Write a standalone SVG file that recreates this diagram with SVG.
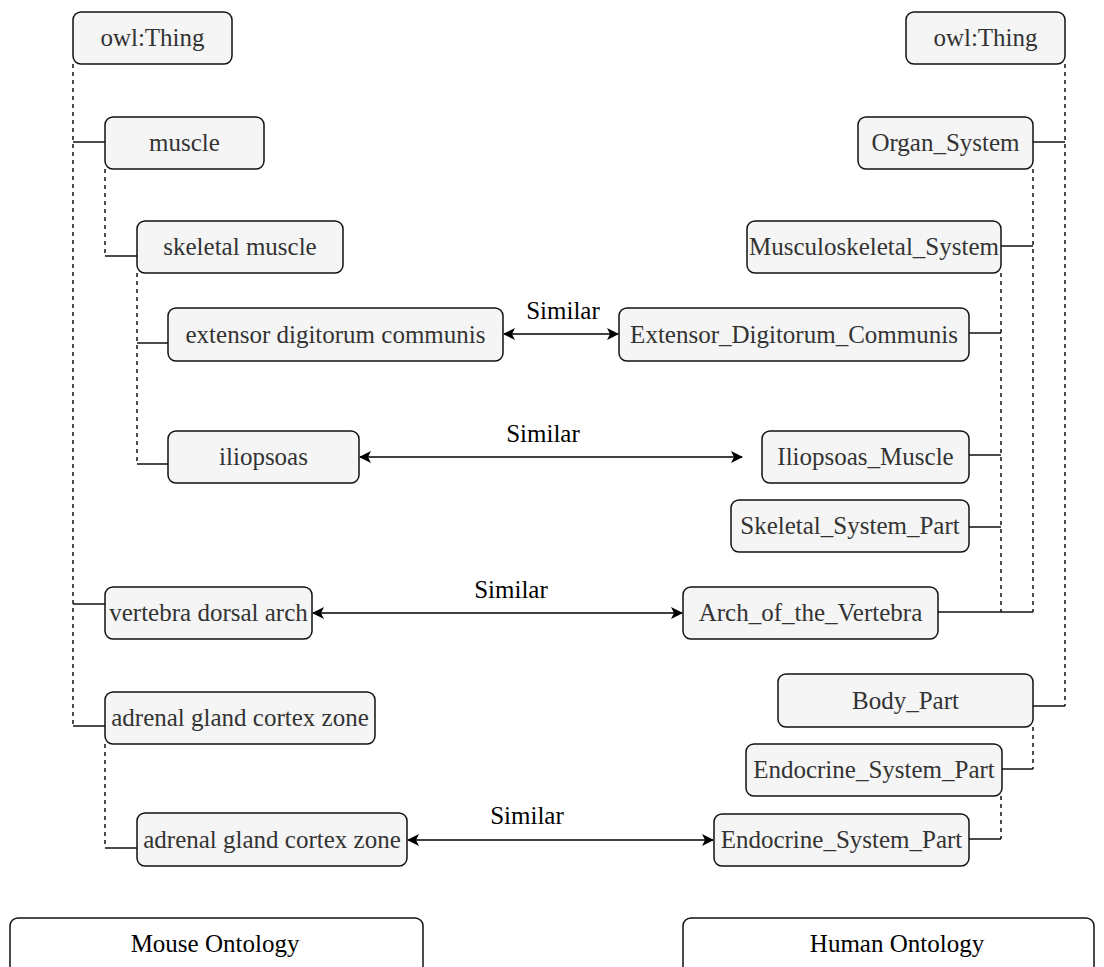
<svg xmlns="http://www.w3.org/2000/svg" width="1104" height="967" viewBox="0 0 1104 967">
<style>
.n{fill:#f5f5f5;stroke:#111;stroke-width:1.5}
.b{fill:#fff;stroke:#111;stroke-width:1.5}
.t{font-family:"Liberation Serif","Times New Roman",serif;font-size:25px;fill:#333;text-anchor:middle}
.tb{font-family:"Liberation Serif","Times New Roman",serif;font-size:25px;fill:#000;text-anchor:middle}
.d{stroke:#111;stroke-width:1.5;stroke-dasharray:4 4;fill:none}
.s{stroke:#111;stroke-width:1.5;fill:none}
.a{stroke:#000;stroke-width:1.7;fill:none;marker-start:url(#ah);marker-end:url(#ah)}
</style>
<defs>
<marker id="ah" viewBox="0 0 12 12" refX="11" refY="6" markerWidth="12" markerHeight="12" markerUnits="userSpaceOnUse" orient="auto-start-reverse">
<path d="M0,0 L12,6 L0,12 L3,6 Z" fill="#000"/>
</marker>
</defs>
<g id="connectors">
<line class="d" x1="73" y1="64" x2="73" y2="726"/>
<line class="s" x1="73" y1="142" x2="105" y2="142"/>
<line class="s" x1="73" y1="604" x2="105" y2="604"/>
<line class="s" x1="73" y1="726" x2="105" y2="726"/>
<line class="d" x1="105" y1="169" x2="105" y2="256"/>
<line class="s" x1="105" y1="256" x2="137" y2="256"/>
<line class="d" x1="137" y1="273" x2="137" y2="464"/>
<line class="s" x1="137" y1="343" x2="168" y2="343"/>
<line class="s" x1="137" y1="464" x2="168" y2="464"/>
<line class="d" x1="105" y1="744" x2="105" y2="848"/>
<line class="s" x1="105" y1="848" x2="137" y2="848"/>
<line class="d" x1="1065" y1="64" x2="1065" y2="706"/>
<line class="s" x1="1033" y1="142" x2="1065" y2="142"/>
<line class="s" x1="1033" y1="706" x2="1065" y2="706"/>
<line class="d" x1="1033" y1="169" x2="1033" y2="612"/>
<line class="s" x1="1001" y1="246" x2="1033" y2="246"/>
<line class="s" x1="938" y1="612" x2="1033" y2="612"/>
<line class="d" x1="1001" y1="273" x2="1001" y2="612"/>
<line class="s" x1="969" y1="333" x2="1001" y2="333"/>
<line class="s" x1="969" y1="455" x2="1001" y2="455"/>
<line class="s" x1="969" y1="527" x2="1001" y2="527"/>
<line class="d" x1="1033" y1="727" x2="1033" y2="769"/>
<line class="s" x1="1002" y1="769" x2="1033" y2="769"/>
<line class="d" x1="1001" y1="796" x2="1001" y2="839"/>
<line class="s" x1="969" y1="839" x2="1001" y2="839"/>
<line class="a" x1="504" y1="334" x2="618" y2="334"/>
<text class="tb" x="563" y="319">Similar</text>
<line class="a" x1="360" y1="457" x2="742" y2="457"/>
<text class="tb" x="543" y="442">Similar</text>
<line class="a" x1="313" y1="613" x2="682" y2="613"/>
<text class="tb" x="511" y="598">Similar</text>
<line class="a" x1="408" y1="840" x2="713" y2="840"/>
<text class="tb" x="527" y="824">Similar</text>
</g>
<g id="l-owl-thing"><rect class="n" x="73" y="12" width="159" height="52" rx="8"/><text class="t" x="152.5" y="46">owl:Thing</text></g>
<g id="l-muscle"><rect class="n" x="105" y="117" width="159" height="52" rx="8"/><text class="t" x="184.5" y="151">muscle</text></g>
<g id="l-skeletal-muscle"><rect class="n" x="137" y="221" width="206" height="52" rx="8"/><text class="t" x="240" y="255">skeletal muscle</text></g>
<g id="l-extensor"><rect class="n" x="168" y="308" width="335" height="53" rx="8"/><text class="t" x="335.5" y="342.5">extensor digitorum communis</text></g>
<g id="l-iliopsoas"><rect class="n" x="168" y="431" width="191" height="52" rx="8"/><text class="t" x="263.5" y="465">iliopsoas</text></g>
<g id="l-vertebra"><rect class="n" x="105" y="587" width="207" height="52" rx="8"/><text class="t" x="208.5" y="621">vertebra dorsal arch</text></g>
<g id="l-adrenal-1"><rect class="n" x="105" y="692" width="270" height="52" rx="8"/><text class="t" x="240" y="726">adrenal gland cortex zone</text></g>
<g id="l-adrenal-2"><rect class="n" x="137" y="813" width="270" height="53" rx="8"/><text class="t" x="272" y="847.5">adrenal gland cortex zone</text></g>
<g id="r-owl-thing"><rect class="n" x="906" y="12" width="159" height="52" rx="8"/><text class="t" x="985.5" y="46">owl:Thing</text></g>
<g id="r-organ-system"><rect class="n" x="858" y="117" width="175" height="52" rx="8"/><text class="t" x="945.5" y="151">Organ_System</text></g>
<g id="r-musculoskeletal"><rect class="n" x="747" y="221" width="254" height="52" rx="8"/><text class="t" x="874" y="255">Musculoskeletal_System</text></g>
<g id="r-extensor"><rect class="n" x="619" y="308" width="350" height="53" rx="8"/><text class="t" x="794" y="342.5">Extensor_Digitorum_Communis</text></g>
<g id="r-iliopsoas"><rect class="n" x="762" y="431" width="207" height="52" rx="8"/><text class="t" x="865.5" y="465">Iliopsoas_Muscle</text></g>
<g id="r-skeletal-part"><rect class="n" x="731" y="500" width="238" height="52" rx="8"/><text class="t" x="850" y="534">Skeletal_System_Part</text></g>
<g id="r-arch"><rect class="n" x="683" y="587" width="255" height="52" rx="8"/><text class="t" x="810.5" y="621">Arch_of_the_Vertebra</text></g>
<g id="r-body-part"><rect class="n" x="778" y="674" width="255" height="53" rx="8"/><text class="t" x="905.5" y="708.5">Body_Part</text></g>
<g id="r-endocrine-1"><rect class="n" x="746" y="744" width="256" height="52" rx="8"/><text class="t" x="874" y="778">Endocrine_System_Part</text></g>
<g id="r-endocrine-2"><rect class="n" x="714" y="814" width="255" height="52" rx="8"/><text class="t" x="841.5" y="848">Endocrine_System_Part</text></g>
<g id="mouse-ontology"><rect class="b" x="10" y="918" width="413" height="70" rx="8"/><text class="tb" x="215" y="952">Mouse Ontology</text></g>
<g id="human-ontology"><rect class="b" x="683" y="918" width="411" height="70" rx="8"/><text class="tb" x="897" y="952">Human Ontology</text></g>
</svg>
